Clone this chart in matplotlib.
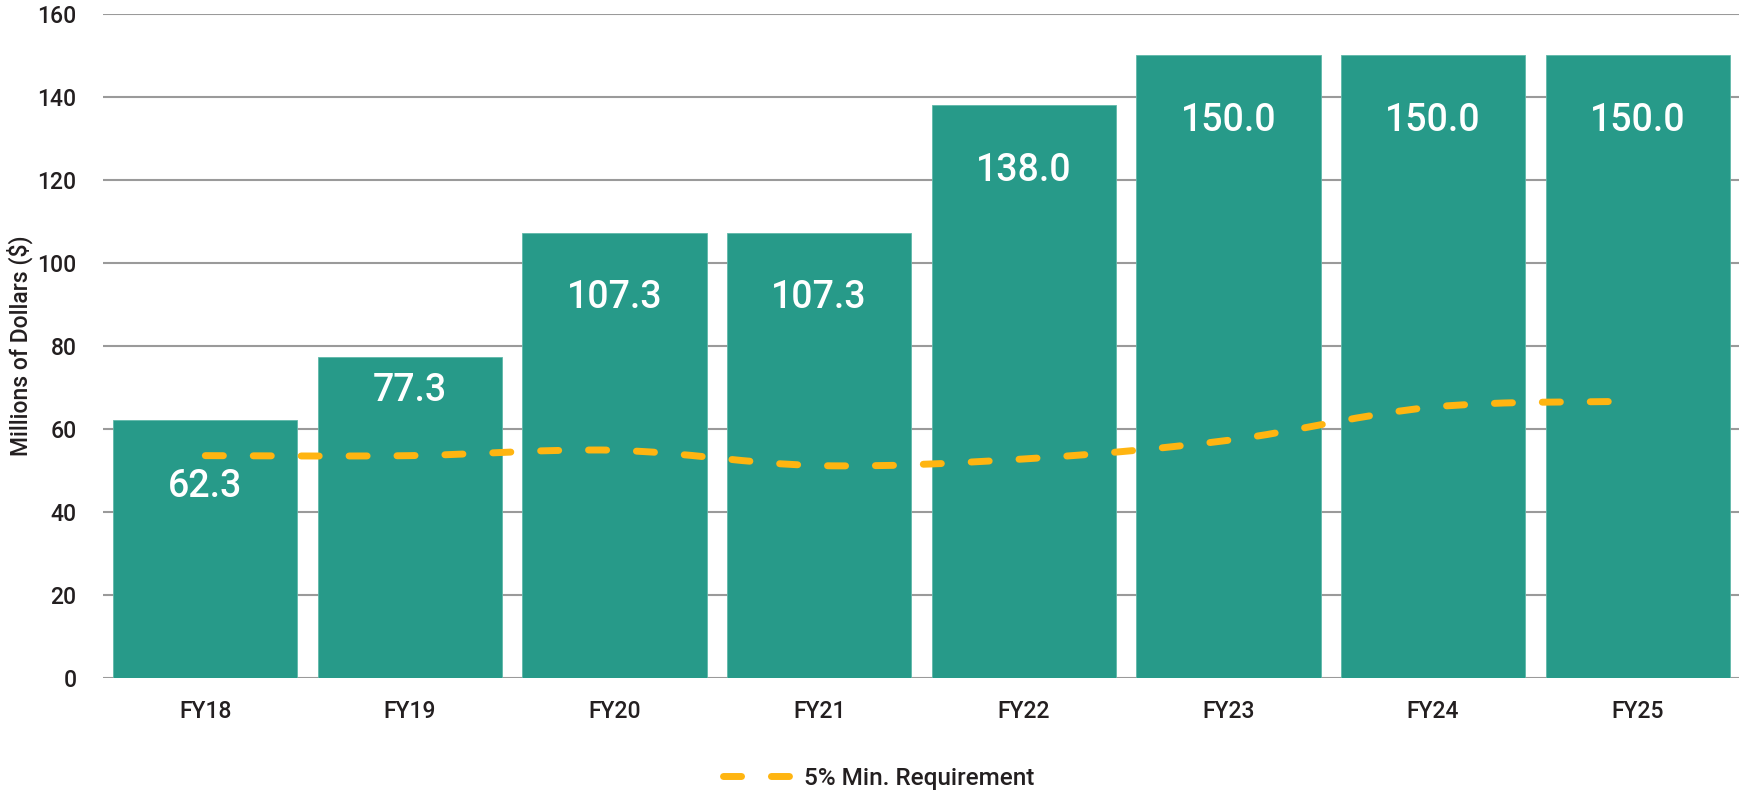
import matplotlib
matplotlib.use("Agg")
import matplotlib.pyplot as plt
from matplotlib.path import Path
from matplotlib.patches import PathPatch
from matplotlib.lines import Line2D
import numpy as np

categories = ["FY18", "FY19", "FY20", "FY21", "FY22", "FY23", "FY24", "FY25"]
funding = [62.3, 77.3, 107.3, 107.3, 138.0, 150.0, 150.0, 150.0]
min_requirement = [53.6, 53.6, 54.9, 51.2, 52.8, 57.3, 65.3, 66.7]
label_drop_pts = [48, 24, 47, 47, 47, 47, 47, 47]

BAR = "#279A89"
LINE = "#FFB511"
TXT = "#231F20"
FONT = ["Roboto", "DejaVu Sans"]

plt.rcParams["font.family"] = FONT

fig = plt.figure(figsize=(17.4, 7.92), dpi=100)
ax = fig.add_axes([0.0592, 0.1436, 0.9408, 0.8391])

x = np.arange(len(categories))
ax.bar(x, funding, width=0.9, color=BAR, edgecolor="#5FB8A9", linewidth=0.6, zorder=2)

for xi, v, d in zip(x, funding, label_drop_pts):
    ax.annotate(f"{v:.1f}", (xi, v), xytext=(0, -d), textcoords="offset points",
                ha="center", va="center", color="white", fontsize=27,
                fontweight="medium", zorder=4)

# smooth curve through the points (Catmull-Rom as cubic Bezier)
pts = np.column_stack([x, min_requirement]).astype(float)
verts = [tuple(pts[0])]
codes = [Path.MOVETO]
n = len(pts)
for i in range(n - 1):
    p0 = pts[i - 1] if i > 0 else pts[i]
    p1 = pts[i]
    p2 = pts[i + 1]
    p3 = pts[i + 2] if i + 2 < n else pts[i + 1]
    c1 = p1 + (p2 - p0) / 6.0
    c2 = p2 - (p3 - p1) / 6.0
    verts += [tuple(c1), tuple(c2), tuple(p2)]
    codes += [Path.CURVE4] * 3
path = Path(verts, codes)
patch = PathPatch(path, facecolor="none", edgecolor=LINE, linewidth=5,
                  linestyle=(0, (2.6, 4.3)), capstyle="round", zorder=3)
ax.add_patch(patch)

ax.set_xlim(-0.5, 7.5)
ax.set_ylim(0, 160)
ax.set_yticks(range(0, 161, 20))
ax.set_xticks(x)
ax.set_xticklabels(categories)
ax.yaxis.grid(True, color="#9A9A9A", linewidth=1.5, zorder=0)
ax.set_axisbelow(True)
for s in ax.spines.values():
    s.set_visible(False)
ax.tick_params(axis="both", length=0, labelsize=16.5, colors=TXT)
for lbl in ax.get_xticklabels() + ax.get_yticklabels():
    lbl.set_fontweight("medium")
ax.tick_params(axis="y", pad=19)
ax.tick_params(axis="x", pad=16)
ax.set_ylabel("Millions of Dollars ($)", fontsize=16.5, color=TXT, fontweight="medium")
ax.yaxis.set_label_coords(-0.043, 0.5)

handle = Line2D([0], [0], color=LINE, linewidth=5, linestyle=(0, (2.6, 4.3)),
                dash_capstyle="round")
fig.legend([handle], ["5% Min. Requirement"], loc="lower center",
           bbox_to_anchor=(0.505, -0.025), frameon=False,
           prop={"size": 17.5, "weight": "medium"},
           handlelength=3.2, handletextpad=0.1, labelcolor=TXT)

fig.savefig("out.png", dpi=100)
